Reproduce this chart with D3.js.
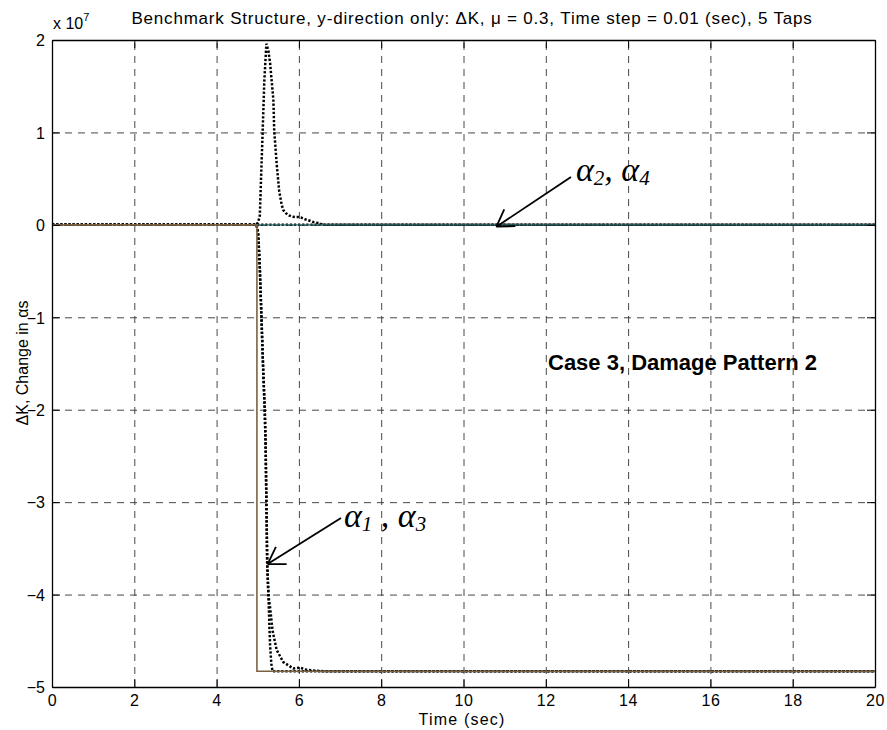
<!DOCTYPE html>
<html>
<head>
<meta charset="utf-8">
<script src="https://cdn.jsdelivr.net/npm/d3@7"></script>
<style>
  html, body { margin: 0; padding: 0; background: #fff; }
  svg { display: block; }
  text { font-family: "Liberation Sans", Arial, Helvetica, sans-serif; }
</style>
</head>
<body>
<svg id="chart" width="887" height="730"></svg>
<script>
// Axis ticks
const timeTicks = [0, 2, 4, 6, 8, 10, 12, 14, 16, 18, 20];
const valueTicks = [-5, -4, -3, -2, -1, 0, 1, 2];

// Values are in units of 1e7
// Actual stiffness change of alpha_1 / alpha_3 (step at damage onset)
const trueA13Time  = [0, 4.98, 4.98, 20];
const trueA13Value = [0, 0, -4.83, -4.83];

// Actual stiffness change of alpha_2 / alpha_4 (no damage)
const trueA24Time  = [4.98, 20];
const trueA24Value = [0, 0];

// Estimated alpha_2 (transient overshoot)
const estA2Time  = [0, 4.97, 5.01, 5.05, 5.08, 5.12, 5.16, 5.21, 5.26, 5.30, 5.34, 5.38, 5.40, 5.46, 5.52, 5.58, 5.62, 5.72, 5.82, 5.92, 5.98, 6.05, 6.15, 6.23, 6.35, 6.47, 6.60, 20];
const estA2Value = [0, 0, 0.03, 0.10, 0.50, 1.02, 1.56, 1.96, 1.88, 1.75, 1.55, 1.35, 1.02, 0.66, 0.37, 0.22, 0.16, 0.11, 0.09, 0.085, 0.085, 0.08, 0.06, 0.05, 0.03, 0.02, 0, 0];

// Estimated alpha_4
const estA4Time  = [0, 20];
const estA4Value = [0, 0];

// Estimated alpha_1
const estA1Time  = [0, 4.97, 5.01, 5.05, 5.09, 5.13, 5.17, 5.19, 5.21, 5.23, 5.26, 5.28, 5.30, 5.33, 5.36, 20];
const estA1Value = [0, 0, -0.09, -0.46, -1.00, -1.54, -2.00, -2.35, -3.00, -3.67, -4.01, -4.30, -4.55, -4.75, -4.83, -4.83];

// Estimated alpha_3
const estA3Time  = [0, 4.97, 5.01, 5.05, 5.09, 5.13, 5.17, 5.19, 5.21, 5.23, 5.26, 5.30, 5.36, 5.46, 5.62, 5.86, 6.03, 6.15, 6.30, 6.60, 20];
const estA3Value = [0, 0, -0.09, -0.46, -1.00, -1.54, -2.00, -2.35, -3.00, -3.67, -4.01, -4.14, -4.39, -4.60, -4.73, -4.80, -4.79, -4.81, -4.82, -4.83, -4.83];

const titleText = "Benchmark Structure, y-direction only: \u0394K, \u03bc = 0.3, Time step = 0.01 (sec), 5 Taps";
const xLabel = "Time (sec)";
const yLabel = "\u0394K, Change in \u03b1s";
const caseLabel = "Case 3, Damage Pattern 2";

const svg = d3.select("#chart");
const plotLeft = 52, plotRight = 875, plotTop = 40, plotBottom = 687;

const x = d3.scaleLinear().domain([0, 20]).range([plotLeft, plotRight]);
const y = d3.scaleLinear().domain([-5, 2]).range([plotBottom, plotTop]);

const zip = (ts, vs) => ts.map((t, i) => [t, vs[i]]);
const line = d3.line().x(d => x(d[0])).y(d => y(d[1]));

// Dashed grid
const gridX = svg.append("g").attr("transform", `translate(0,${plotBottom})`)
  .call(d3.axisBottom(x).tickValues(timeTicks).tickSize(-(plotBottom - plotTop)).tickFormat(""));
const gridY = svg.append("g").attr("transform", `translate(${plotLeft},0)`)
  .call(d3.axisLeft(y).tickValues(valueTicks).tickSize(-(plotRight - plotLeft)).tickFormat(""));
[gridX, gridY].forEach(g => {
  g.select(".domain").remove();
  g.selectAll(".tick line").attr("stroke", "#333").attr("stroke-width", 0.9)
    .attr("stroke-dasharray", "7,6");
});

// Estimated traces (dotted)
const dotted = (ts, vs) => svg.append("path")
  .attr("d", line(zip(ts, vs)))
  .attr("fill", "none").attr("stroke", "#000")
  .attr("stroke-width", 2.5).attr("stroke-dasharray", "2.3,1.8");
dotted(estA4Time, estA4Value);
dotted(estA2Time, estA2Value);
dotted(estA3Time, estA3Value);
dotted(estA1Time, estA1Value);

// Actual traces (solid)
svg.append("path").attr("d", line(zip(trueA13Time, trueA13Value)))
  .attr("fill", "none").attr("stroke", "#7a6245").attr("stroke-width", 1.6);
svg.append("path").attr("d", line(zip(trueA24Time, trueA24Value)))
  .attr("fill", "none").attr("stroke", "#2f6b6b").attr("stroke-width", 1.4);

// Axes box with inward ticks
const axB = svg.append("g").attr("transform", `translate(0,${plotBottom})`)
  .call(d3.axisBottom(x).tickValues(timeTicks).tickSizeInner(-8).tickSizeOuter(0).tickFormat(d3.format("d")));
const axT = svg.append("g").attr("transform", `translate(0,${plotTop})`)
  .call(d3.axisTop(x).tickValues(timeTicks).tickSizeInner(-8).tickSizeOuter(0).tickFormat(""));
const axL = svg.append("g").attr("transform", `translate(${plotLeft},0)`)
  .call(d3.axisLeft(y).tickValues(valueTicks).tickSizeInner(-8).tickSizeOuter(0).tickFormat(d3.format("d")));
const axR = svg.append("g").attr("transform", `translate(${plotRight},0)`)
  .call(d3.axisRight(y).tickValues(valueTicks).tickSizeInner(-8).tickSizeOuter(0).tickFormat(""));
[axB, axT, axL, axR].forEach(g => {
  g.select(".domain").attr("stroke", "#000").attr("stroke-width", 1.3);
  g.selectAll(".tick line").attr("stroke", "#000").attr("stroke-width", 1);
  g.selectAll(".tick text").attr("fill", "#000").style("font-size", "16px")
    .style("font-family", "'Liberation Sans', Arial, sans-serif");
});
axB.selectAll(".tick text").attr("y", 19).attr("dy", 0).style("letter-spacing", "0.6px");
axL.selectAll(".tick text").attr("x", -7).attr("dy", "0.36em");

// Exponent marker
const expo = svg.append("text").attr("x", 53).attr("y", 29).style("font-size", "16px");
expo.append("tspan").text("x 10");
expo.append("tspan").attr("dy", -8).style("font-size", "11px").text("7");

// Title and axis labels
svg.append("text").attr("x", 472).attr("y", 24).attr("text-anchor", "middle")
  .style("font-size", "17px").style("letter-spacing", "0.8px").text(titleText);
svg.append("text").attr("x", 462).attr("y", 725).attr("text-anchor", "middle")
  .style("font-size", "16px").style("letter-spacing", "1.2px").text(xLabel);
svg.append("text").attr("transform", `translate(28,363) rotate(-90)`).attr("text-anchor", "middle")
  .style("font-size", "16px").text(yLabel);

// Case annotation
svg.append("text").attr("x", 548).attr("y", 370).style("font-size", "22px")
  .style("font-weight", "bold").text(caseLabel);

// Open arrowheads
function arrow(x0, y0, x1, y1) {
  const g = svg.append("g").attr("stroke", "#000").attr("stroke-width", 1.8).attr("fill", "none");
  g.append("line").attr("x1", x0).attr("y1", y0).attr("x2", x1).attr("y2", y1);
  const ang = Math.atan2(y0 - y1, x0 - x1), half = 32 * Math.PI / 180, len = 19;
  [ang - half, ang + half].forEach(a => {
    g.append("line").attr("x1", x1).attr("y1", y1)
      .attr("x2", x1 + len * Math.cos(a)).attr("y2", y1 + len * Math.sin(a));
  });
}
arrow(571, 177, x(10.8), y(-0.02));
arrow(341, 518, x(5.24), y(-3.67));

// Alpha labels
function alphaLabel(px, py, a, b, spaced) {
  const t = svg.append("text").attr("x", px).attr("y", py)
    .style("font-family", "'Liberation Serif', 'Times New Roman', serif")
    .style("font-style", "italic").style("font-size", "34px");
  t.append("tspan").text("\u03b1");
  t.append("tspan").attr("dy", 4).style("font-size", "21px").text(a);
  t.append("tspan").attr("dy", -4).text(spaced ? " , \u03b1" : ", \u03b1");
  t.append("tspan").attr("dy", 4).style("font-size", "21px").text(b);
}
alphaLabel(576, 181, "2", "4", false);
alphaLabel(344, 527, "1", "3", true);
</script>
</body>
</html>
